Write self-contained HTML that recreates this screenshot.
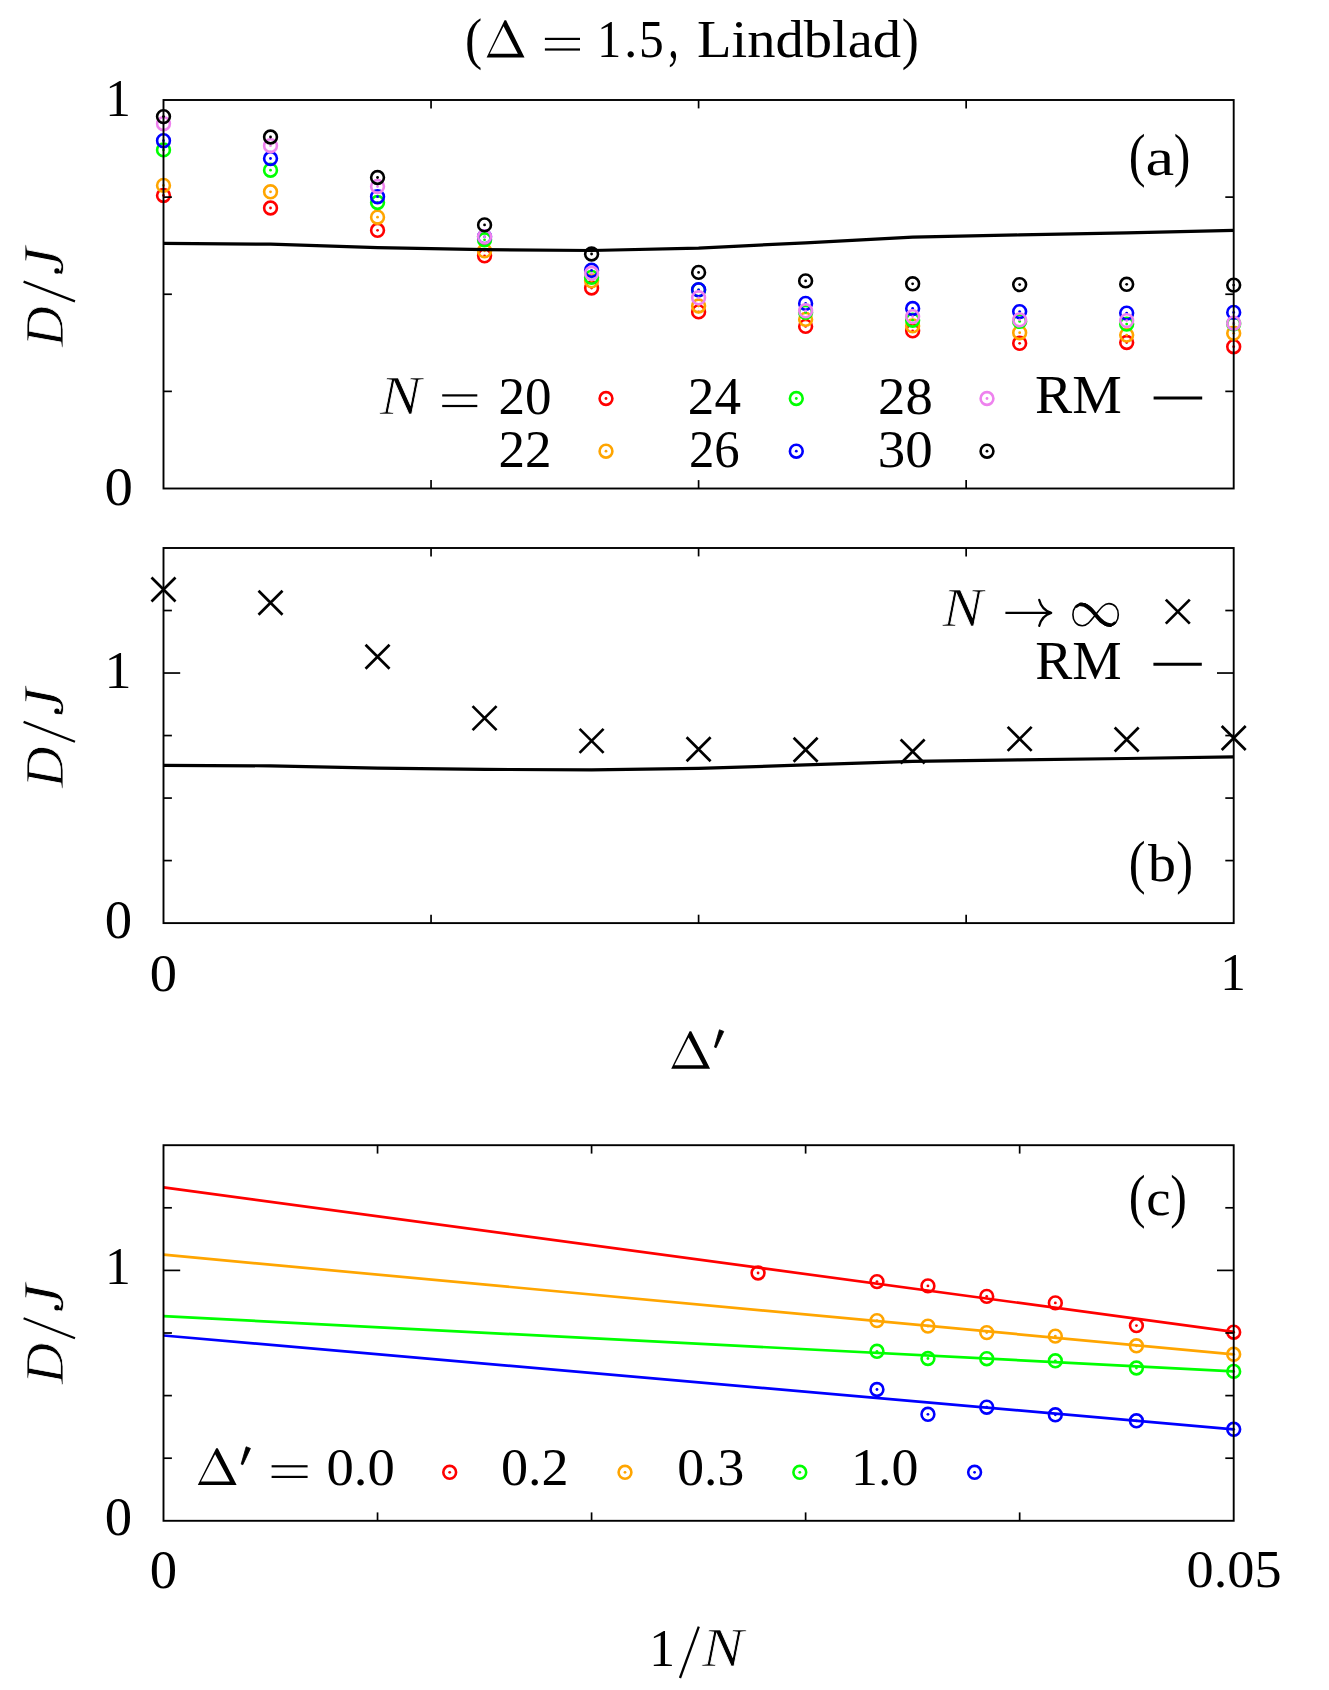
<!DOCTYPE html>
<html><head><meta charset="utf-8"><title>Figure</title>
<style>html,body{margin:0;padding:0;background:#fff}svg{display:block;font-family:"Liberation Serif",serif}text{fill:#000}</style>
</head><body>
<svg width="1329" height="1690" viewBox="0 0 1329 1690">
<rect x="0" y="0" width="1329" height="1690" fill="#ffffff"/>
<circle cx="163.50" cy="195.50" r="6.4" fill="none" stroke="#ff0000" stroke-width="2.6"/><circle cx="163.50" cy="195.50" r="1.4" fill="#ff0000"/>
<circle cx="270.52" cy="208.00" r="6.4" fill="none" stroke="#ff0000" stroke-width="2.6"/><circle cx="270.52" cy="208.00" r="1.4" fill="#ff0000"/>
<circle cx="377.54" cy="230.30" r="6.4" fill="none" stroke="#ff0000" stroke-width="2.6"/><circle cx="377.54" cy="230.30" r="1.4" fill="#ff0000"/>
<circle cx="484.56" cy="255.80" r="6.4" fill="none" stroke="#ff0000" stroke-width="2.6"/><circle cx="484.56" cy="255.80" r="1.4" fill="#ff0000"/>
<circle cx="591.58" cy="288.00" r="6.4" fill="none" stroke="#ff0000" stroke-width="2.6"/><circle cx="591.58" cy="288.00" r="1.4" fill="#ff0000"/>
<circle cx="698.60" cy="311.90" r="6.4" fill="none" stroke="#ff0000" stroke-width="2.6"/><circle cx="698.60" cy="311.90" r="1.4" fill="#ff0000"/>
<circle cx="805.62" cy="326.40" r="6.4" fill="none" stroke="#ff0000" stroke-width="2.6"/><circle cx="805.62" cy="326.40" r="1.4" fill="#ff0000"/>
<circle cx="912.64" cy="330.80" r="6.4" fill="none" stroke="#ff0000" stroke-width="2.6"/><circle cx="912.64" cy="330.80" r="1.4" fill="#ff0000"/>
<circle cx="1019.66" cy="343.30" r="6.4" fill="none" stroke="#ff0000" stroke-width="2.6"/><circle cx="1019.66" cy="343.30" r="1.4" fill="#ff0000"/>
<circle cx="1126.68" cy="342.50" r="6.4" fill="none" stroke="#ff0000" stroke-width="2.6"/><circle cx="1126.68" cy="342.50" r="1.4" fill="#ff0000"/>
<circle cx="1233.70" cy="346.70" r="6.4" fill="none" stroke="#ff0000" stroke-width="2.6"/><circle cx="1233.70" cy="346.70" r="1.4" fill="#ff0000"/>
<circle cx="163.50" cy="185.40" r="6.4" fill="none" stroke="#ffa500" stroke-width="2.6"/><circle cx="163.50" cy="185.40" r="1.4" fill="#ffa500"/>
<circle cx="270.52" cy="191.80" r="6.4" fill="none" stroke="#ffa500" stroke-width="2.6"/><circle cx="270.52" cy="191.80" r="1.4" fill="#ffa500"/>
<circle cx="377.54" cy="217.20" r="6.4" fill="none" stroke="#ffa500" stroke-width="2.6"/><circle cx="377.54" cy="217.20" r="1.4" fill="#ffa500"/>
<circle cx="484.56" cy="250.80" r="6.4" fill="none" stroke="#ffa500" stroke-width="2.6"/><circle cx="484.56" cy="250.80" r="1.4" fill="#ffa500"/>
<circle cx="591.58" cy="280.80" r="6.4" fill="none" stroke="#ffa500" stroke-width="2.6"/><circle cx="591.58" cy="280.80" r="1.4" fill="#ffa500"/>
<circle cx="698.60" cy="306.00" r="6.4" fill="none" stroke="#ffa500" stroke-width="2.6"/><circle cx="698.60" cy="306.00" r="1.4" fill="#ffa500"/>
<circle cx="805.62" cy="319.40" r="6.4" fill="none" stroke="#ffa500" stroke-width="2.6"/><circle cx="805.62" cy="319.40" r="1.4" fill="#ffa500"/>
<circle cx="912.64" cy="325.90" r="6.4" fill="none" stroke="#ffa500" stroke-width="2.6"/><circle cx="912.64" cy="325.90" r="1.4" fill="#ffa500"/>
<circle cx="1019.66" cy="332.70" r="6.4" fill="none" stroke="#ffa500" stroke-width="2.6"/><circle cx="1019.66" cy="332.70" r="1.4" fill="#ffa500"/>
<circle cx="1126.68" cy="335.10" r="6.4" fill="none" stroke="#ffa500" stroke-width="2.6"/><circle cx="1126.68" cy="335.10" r="1.4" fill="#ffa500"/>
<circle cx="1233.70" cy="333.30" r="6.4" fill="none" stroke="#ffa500" stroke-width="2.6"/><circle cx="1233.70" cy="333.30" r="1.4" fill="#ffa500"/>
<circle cx="163.50" cy="149.90" r="6.4" fill="none" stroke="#00ff00" stroke-width="2.6"/><circle cx="163.50" cy="149.90" r="1.4" fill="#00ff00"/>
<circle cx="270.52" cy="170.20" r="6.4" fill="none" stroke="#00ff00" stroke-width="2.6"/><circle cx="270.52" cy="170.20" r="1.4" fill="#00ff00"/>
<circle cx="377.54" cy="202.50" r="6.4" fill="none" stroke="#00ff00" stroke-width="2.6"/><circle cx="377.54" cy="202.50" r="1.4" fill="#00ff00"/>
<circle cx="484.56" cy="239.80" r="6.4" fill="none" stroke="#00ff00" stroke-width="2.6"/><circle cx="484.56" cy="239.80" r="1.4" fill="#00ff00"/>
<circle cx="591.58" cy="277.40" r="6.4" fill="none" stroke="#00ff00" stroke-width="2.6"/><circle cx="591.58" cy="277.40" r="1.4" fill="#00ff00"/>
<circle cx="698.60" cy="289.90" r="6.4" fill="none" stroke="#00ff00" stroke-width="2.6"/><circle cx="698.60" cy="289.90" r="1.4" fill="#00ff00"/>
<circle cx="805.62" cy="312.40" r="6.4" fill="none" stroke="#00ff00" stroke-width="2.6"/><circle cx="805.62" cy="312.40" r="1.4" fill="#00ff00"/>
<circle cx="912.64" cy="320.20" r="6.4" fill="none" stroke="#00ff00" stroke-width="2.6"/><circle cx="912.64" cy="320.20" r="1.4" fill="#00ff00"/>
<circle cx="1019.66" cy="321.40" r="6.4" fill="none" stroke="#00ff00" stroke-width="2.6"/><circle cx="1019.66" cy="321.40" r="1.4" fill="#00ff00"/>
<circle cx="1126.68" cy="324.10" r="6.4" fill="none" stroke="#00ff00" stroke-width="2.6"/><circle cx="1126.68" cy="324.10" r="1.4" fill="#00ff00"/>
<circle cx="1233.70" cy="323.80" r="6.4" fill="none" stroke="#00ff00" stroke-width="2.6"/><circle cx="1233.70" cy="323.80" r="1.4" fill="#00ff00"/>
<circle cx="163.50" cy="140.70" r="6.4" fill="none" stroke="#0000ff" stroke-width="2.6"/><circle cx="163.50" cy="140.70" r="1.4" fill="#0000ff"/>
<circle cx="270.52" cy="158.50" r="6.4" fill="none" stroke="#0000ff" stroke-width="2.6"/><circle cx="270.52" cy="158.50" r="1.4" fill="#0000ff"/>
<circle cx="377.54" cy="196.70" r="6.4" fill="none" stroke="#0000ff" stroke-width="2.6"/><circle cx="377.54" cy="196.70" r="1.4" fill="#0000ff"/>
<circle cx="484.56" cy="236.80" r="6.4" fill="none" stroke="#0000ff" stroke-width="2.6"/><circle cx="484.56" cy="236.80" r="1.4" fill="#0000ff"/>
<circle cx="591.58" cy="270.30" r="6.4" fill="none" stroke="#0000ff" stroke-width="2.6"/><circle cx="591.58" cy="270.30" r="1.4" fill="#0000ff"/>
<circle cx="698.60" cy="289.80" r="6.4" fill="none" stroke="#0000ff" stroke-width="2.6"/><circle cx="698.60" cy="289.80" r="1.4" fill="#0000ff"/>
<circle cx="805.62" cy="303.40" r="6.4" fill="none" stroke="#0000ff" stroke-width="2.6"/><circle cx="805.62" cy="303.40" r="1.4" fill="#0000ff"/>
<circle cx="912.64" cy="308.50" r="6.4" fill="none" stroke="#0000ff" stroke-width="2.6"/><circle cx="912.64" cy="308.50" r="1.4" fill="#0000ff"/>
<circle cx="1019.66" cy="311.60" r="6.4" fill="none" stroke="#0000ff" stroke-width="2.6"/><circle cx="1019.66" cy="311.60" r="1.4" fill="#0000ff"/>
<circle cx="1126.68" cy="313.10" r="6.4" fill="none" stroke="#0000ff" stroke-width="2.6"/><circle cx="1126.68" cy="313.10" r="1.4" fill="#0000ff"/>
<circle cx="1233.70" cy="312.40" r="6.4" fill="none" stroke="#0000ff" stroke-width="2.6"/><circle cx="1233.70" cy="312.40" r="1.4" fill="#0000ff"/>
<circle cx="163.50" cy="123.70" r="6.4" fill="none" stroke="#ee82ee" stroke-width="2.6"/><circle cx="163.50" cy="123.70" r="1.4" fill="#ee82ee"/>
<circle cx="270.52" cy="145.70" r="6.4" fill="none" stroke="#ee82ee" stroke-width="2.6"/><circle cx="270.52" cy="145.70" r="1.4" fill="#ee82ee"/>
<circle cx="377.54" cy="186.50" r="6.4" fill="none" stroke="#ee82ee" stroke-width="2.6"/><circle cx="377.54" cy="186.50" r="1.4" fill="#ee82ee"/>
<circle cx="484.56" cy="236.80" r="6.4" fill="none" stroke="#ee82ee" stroke-width="2.6"/><circle cx="484.56" cy="236.80" r="1.4" fill="#ee82ee"/>
<circle cx="591.58" cy="273.30" r="6.4" fill="none" stroke="#ee82ee" stroke-width="2.6"/><circle cx="591.58" cy="273.30" r="1.4" fill="#ee82ee"/>
<circle cx="698.60" cy="297.80" r="6.4" fill="none" stroke="#ee82ee" stroke-width="2.6"/><circle cx="698.60" cy="297.80" r="1.4" fill="#ee82ee"/>
<circle cx="805.62" cy="310.80" r="6.4" fill="none" stroke="#ee82ee" stroke-width="2.6"/><circle cx="805.62" cy="310.80" r="1.4" fill="#ee82ee"/>
<circle cx="912.64" cy="316.60" r="6.4" fill="none" stroke="#ee82ee" stroke-width="2.6"/><circle cx="912.64" cy="316.60" r="1.4" fill="#ee82ee"/>
<circle cx="1019.66" cy="319.85" r="6.4" fill="none" stroke="#ee82ee" stroke-width="2.6"/><circle cx="1019.66" cy="319.85" r="1.4" fill="#ee82ee"/>
<circle cx="1126.68" cy="320.60" r="6.4" fill="none" stroke="#ee82ee" stroke-width="2.6"/><circle cx="1126.68" cy="320.60" r="1.4" fill="#ee82ee"/>
<circle cx="1233.70" cy="323.20" r="6.4" fill="none" stroke="#ee82ee" stroke-width="2.6"/><circle cx="1233.70" cy="323.20" r="1.4" fill="#ee82ee"/>
<circle cx="163.50" cy="116.60" r="6.4" fill="none" stroke="#000000" stroke-width="2.6"/><circle cx="163.50" cy="116.60" r="1.4" fill="#000000"/>
<circle cx="270.52" cy="137.00" r="6.4" fill="none" stroke="#000000" stroke-width="2.6"/><circle cx="270.52" cy="137.00" r="1.4" fill="#000000"/>
<circle cx="377.54" cy="177.50" r="6.4" fill="none" stroke="#000000" stroke-width="2.6"/><circle cx="377.54" cy="177.50" r="1.4" fill="#000000"/>
<circle cx="484.56" cy="224.90" r="6.4" fill="none" stroke="#000000" stroke-width="2.6"/><circle cx="484.56" cy="224.90" r="1.4" fill="#000000"/>
<circle cx="591.58" cy="254.00" r="6.4" fill="none" stroke="#000000" stroke-width="2.6"/><circle cx="591.58" cy="254.00" r="1.4" fill="#000000"/>
<circle cx="698.60" cy="272.40" r="6.4" fill="none" stroke="#000000" stroke-width="2.6"/><circle cx="698.60" cy="272.40" r="1.4" fill="#000000"/>
<circle cx="805.62" cy="280.90" r="6.4" fill="none" stroke="#000000" stroke-width="2.6"/><circle cx="805.62" cy="280.90" r="1.4" fill="#000000"/>
<circle cx="912.64" cy="283.80" r="6.4" fill="none" stroke="#000000" stroke-width="2.6"/><circle cx="912.64" cy="283.80" r="1.4" fill="#000000"/>
<circle cx="1019.66" cy="284.60" r="6.4" fill="none" stroke="#000000" stroke-width="2.6"/><circle cx="1019.66" cy="284.60" r="1.4" fill="#000000"/>
<circle cx="1126.68" cy="284.30" r="6.4" fill="none" stroke="#000000" stroke-width="2.6"/><circle cx="1126.68" cy="284.30" r="1.4" fill="#000000"/>
<circle cx="1233.70" cy="285.10" r="6.4" fill="none" stroke="#000000" stroke-width="2.6"/><circle cx="1233.70" cy="285.10" r="1.4" fill="#000000"/>
<polyline points="163.50,243.40 270.52,244.20 377.54,247.60 484.56,249.70 591.58,250.50 698.60,248.10 805.62,242.80 912.64,237.20 1019.66,234.90 1126.68,232.80 1233.70,230.30" fill="none" stroke="#000" stroke-width="3.2" stroke-linejoin="round"/>
<circle cx="606.00" cy="398.50" r="6.4" fill="none" stroke="#ff0000" stroke-width="2.6"/><circle cx="606.00" cy="398.50" r="1.4" fill="#ff0000"/>
<circle cx="606.00" cy="451.20" r="6.4" fill="none" stroke="#ffa500" stroke-width="2.6"/><circle cx="606.00" cy="451.20" r="1.4" fill="#ffa500"/>
<circle cx="796.30" cy="398.50" r="6.4" fill="none" stroke="#00ff00" stroke-width="2.6"/><circle cx="796.30" cy="398.50" r="1.4" fill="#00ff00"/>
<circle cx="796.30" cy="451.20" r="6.4" fill="none" stroke="#0000ff" stroke-width="2.6"/><circle cx="796.30" cy="451.20" r="1.4" fill="#0000ff"/>
<circle cx="987.00" cy="398.50" r="6.4" fill="none" stroke="#ee82ee" stroke-width="2.6"/><circle cx="987.00" cy="398.50" r="1.4" fill="#ee82ee"/>
<circle cx="987.00" cy="451.20" r="6.4" fill="none" stroke="#000000" stroke-width="2.6"/><circle cx="987.00" cy="451.20" r="1.4" fill="#000000"/>
<line x1="1153.60" y1="398.00" x2="1202.20" y2="398.00" stroke="#000" stroke-width="3.0" stroke-linecap="butt"/>
<polyline points="163.50,765.34 270.52,765.85 377.54,768.04 484.56,769.39 591.58,769.91 698.60,768.36 805.62,764.95 912.64,761.35 1019.66,759.86 1126.68,758.51 1233.70,756.90" fill="none" stroke="#000" stroke-width="3.2" stroke-linejoin="round"/>
<path d="M151.50 577.50L175.50 601.50M151.50 601.50L175.50 577.50" stroke="#000" stroke-width="2.7" fill="none"/>
<path d="M258.52 590.80L282.52 614.80M258.52 614.80L282.52 590.80" stroke="#000" stroke-width="2.7" fill="none"/>
<path d="M365.54 644.70L389.54 668.70M365.54 668.70L389.54 644.70" stroke="#000" stroke-width="2.7" fill="none"/>
<path d="M472.56 706.10L496.56 730.10M472.56 730.10L496.56 706.10" stroke="#000" stroke-width="2.7" fill="none"/>
<path d="M579.58 728.90L603.58 752.90M579.58 752.90L603.58 728.90" stroke="#000" stroke-width="2.7" fill="none"/>
<path d="M686.60 737.20L710.60 761.20M686.60 761.20L710.60 737.20" stroke="#000" stroke-width="2.7" fill="none"/>
<path d="M793.62 737.80L817.62 761.80M793.62 761.80L817.62 737.80" stroke="#000" stroke-width="2.7" fill="none"/>
<path d="M900.64 739.50L924.64 763.50M900.64 763.50L924.64 739.50" stroke="#000" stroke-width="2.7" fill="none"/>
<path d="M1007.66 726.90L1031.66 750.90M1007.66 750.90L1031.66 726.90" stroke="#000" stroke-width="2.7" fill="none"/>
<path d="M1114.68 727.50L1138.68 751.50M1114.68 751.50L1138.68 727.50" stroke="#000" stroke-width="2.7" fill="none"/>
<path d="M1221.70 726.00L1245.70 750.00M1221.70 750.00L1245.70 726.00" stroke="#000" stroke-width="2.7" fill="none"/>
<path d="M1165.80 599.60L1189.80 623.60M1165.80 623.60L1189.80 599.60" stroke="#000" stroke-width="2.7" fill="none"/>
<line x1="1153.40" y1="664.30" x2="1201.80" y2="664.30" stroke="#000" stroke-width="3.0" stroke-linecap="butt"/>
<circle cx="758.06" cy="1273.00" r="6.4" fill="none" stroke="#ff0000" stroke-width="2.6"/><circle cx="758.06" cy="1273.00" r="1.4" fill="#ff0000"/>
<circle cx="876.97" cy="1281.60" r="6.4" fill="none" stroke="#ff0000" stroke-width="2.6"/><circle cx="876.97" cy="1281.60" r="1.4" fill="#ff0000"/>
<circle cx="927.93" cy="1285.90" r="6.4" fill="none" stroke="#ff0000" stroke-width="2.6"/><circle cx="927.93" cy="1285.90" r="1.4" fill="#ff0000"/>
<circle cx="986.73" cy="1296.40" r="6.4" fill="none" stroke="#ff0000" stroke-width="2.6"/><circle cx="986.73" cy="1296.40" r="1.4" fill="#ff0000"/>
<circle cx="1055.33" cy="1302.90" r="6.4" fill="none" stroke="#ff0000" stroke-width="2.6"/><circle cx="1055.33" cy="1302.90" r="1.4" fill="#ff0000"/>
<circle cx="1136.41" cy="1325.60" r="6.4" fill="none" stroke="#ff0000" stroke-width="2.6"/><circle cx="1136.41" cy="1325.60" r="1.4" fill="#ff0000"/>
<circle cx="1233.70" cy="1332.20" r="6.4" fill="none" stroke="#ff0000" stroke-width="2.6"/><circle cx="1233.70" cy="1332.20" r="1.4" fill="#ff0000"/>
<line x1="163.50" y1="1187.30" x2="1233.70" y2="1331.90" stroke="#ff0000" stroke-width="2.7" stroke-linecap="butt"/>
<circle cx="876.97" cy="1320.60" r="6.4" fill="none" stroke="#ffa500" stroke-width="2.6"/><circle cx="876.97" cy="1320.60" r="1.4" fill="#ffa500"/>
<circle cx="927.93" cy="1326.10" r="6.4" fill="none" stroke="#ffa500" stroke-width="2.6"/><circle cx="927.93" cy="1326.10" r="1.4" fill="#ffa500"/>
<circle cx="986.73" cy="1332.60" r="6.4" fill="none" stroke="#ffa500" stroke-width="2.6"/><circle cx="986.73" cy="1332.60" r="1.4" fill="#ffa500"/>
<circle cx="1055.33" cy="1336.10" r="6.4" fill="none" stroke="#ffa500" stroke-width="2.6"/><circle cx="1055.33" cy="1336.10" r="1.4" fill="#ffa500"/>
<circle cx="1136.41" cy="1345.80" r="6.4" fill="none" stroke="#ffa500" stroke-width="2.6"/><circle cx="1136.41" cy="1345.80" r="1.4" fill="#ffa500"/>
<circle cx="1233.70" cy="1354.30" r="6.4" fill="none" stroke="#ffa500" stroke-width="2.6"/><circle cx="1233.70" cy="1354.30" r="1.4" fill="#ffa500"/>
<line x1="163.50" y1="1254.70" x2="1233.70" y2="1354.30" stroke="#ffa500" stroke-width="2.7" stroke-linecap="butt"/>
<circle cx="876.97" cy="1351.30" r="6.4" fill="none" stroke="#00ff00" stroke-width="2.6"/><circle cx="876.97" cy="1351.30" r="1.4" fill="#00ff00"/>
<circle cx="927.93" cy="1358.50" r="6.4" fill="none" stroke="#00ff00" stroke-width="2.6"/><circle cx="927.93" cy="1358.50" r="1.4" fill="#00ff00"/>
<circle cx="986.73" cy="1358.70" r="6.4" fill="none" stroke="#00ff00" stroke-width="2.6"/><circle cx="986.73" cy="1358.70" r="1.4" fill="#00ff00"/>
<circle cx="1055.33" cy="1360.80" r="6.4" fill="none" stroke="#00ff00" stroke-width="2.6"/><circle cx="1055.33" cy="1360.80" r="1.4" fill="#00ff00"/>
<circle cx="1136.41" cy="1368.00" r="6.4" fill="none" stroke="#00ff00" stroke-width="2.6"/><circle cx="1136.41" cy="1368.00" r="1.4" fill="#00ff00"/>
<circle cx="1233.70" cy="1371.40" r="6.4" fill="none" stroke="#00ff00" stroke-width="2.6"/><circle cx="1233.70" cy="1371.40" r="1.4" fill="#00ff00"/>
<line x1="163.50" y1="1316.20" x2="1233.70" y2="1371.30" stroke="#00ff00" stroke-width="2.7" stroke-linecap="butt"/>
<circle cx="876.97" cy="1389.50" r="6.4" fill="none" stroke="#0000ff" stroke-width="2.6"/><circle cx="876.97" cy="1389.50" r="1.4" fill="#0000ff"/>
<circle cx="927.93" cy="1414.30" r="6.4" fill="none" stroke="#0000ff" stroke-width="2.6"/><circle cx="927.93" cy="1414.30" r="1.4" fill="#0000ff"/>
<circle cx="986.73" cy="1407.20" r="6.4" fill="none" stroke="#0000ff" stroke-width="2.6"/><circle cx="986.73" cy="1407.20" r="1.4" fill="#0000ff"/>
<circle cx="1055.33" cy="1414.80" r="6.4" fill="none" stroke="#0000ff" stroke-width="2.6"/><circle cx="1055.33" cy="1414.80" r="1.4" fill="#0000ff"/>
<circle cx="1136.41" cy="1420.80" r="6.4" fill="none" stroke="#0000ff" stroke-width="2.6"/><circle cx="1136.41" cy="1420.80" r="1.4" fill="#0000ff"/>
<circle cx="1233.70" cy="1429.30" r="6.4" fill="none" stroke="#0000ff" stroke-width="2.6"/><circle cx="1233.70" cy="1429.30" r="1.4" fill="#0000ff"/>
<line x1="163.50" y1="1335.50" x2="1233.70" y2="1429.30" stroke="#0000ff" stroke-width="2.7" stroke-linecap="butt"/>
<circle cx="449.70" cy="1472.30" r="6.4" fill="none" stroke="#ff0000" stroke-width="2.6"/><circle cx="449.70" cy="1472.30" r="1.4" fill="#ff0000"/>
<circle cx="625.00" cy="1472.30" r="6.4" fill="none" stroke="#ffa500" stroke-width="2.6"/><circle cx="625.00" cy="1472.30" r="1.4" fill="#ffa500"/>
<circle cx="799.80" cy="1472.30" r="6.4" fill="none" stroke="#00ff00" stroke-width="2.6"/><circle cx="799.80" cy="1472.30" r="1.4" fill="#00ff00"/>
<circle cx="974.60" cy="1472.30" r="6.4" fill="none" stroke="#0000ff" stroke-width="2.6"/><circle cx="974.60" cy="1472.30" r="1.4" fill="#0000ff"/>
<line x1="163.50" y1="391.38" x2="171.90" y2="391.38" stroke="#000" stroke-width="1.7" stroke-linecap="butt"/>
<line x1="1233.70" y1="391.38" x2="1225.30" y2="391.38" stroke="#000" stroke-width="1.7" stroke-linecap="butt"/>
<line x1="163.50" y1="294.25" x2="171.90" y2="294.25" stroke="#000" stroke-width="1.7" stroke-linecap="butt"/>
<line x1="1233.70" y1="294.25" x2="1225.30" y2="294.25" stroke="#000" stroke-width="1.7" stroke-linecap="butt"/>
<line x1="163.50" y1="197.12" x2="171.90" y2="197.12" stroke="#000" stroke-width="1.7" stroke-linecap="butt"/>
<line x1="1233.70" y1="197.12" x2="1225.30" y2="197.12" stroke="#000" stroke-width="1.7" stroke-linecap="butt"/>
<line x1="431.05" y1="488.50" x2="431.05" y2="480.10" stroke="#000" stroke-width="1.7" stroke-linecap="butt"/>
<line x1="431.05" y1="100.00" x2="431.05" y2="108.40" stroke="#000" stroke-width="1.7" stroke-linecap="butt"/>
<line x1="698.60" y1="488.50" x2="698.60" y2="480.10" stroke="#000" stroke-width="1.7" stroke-linecap="butt"/>
<line x1="698.60" y1="100.00" x2="698.60" y2="108.40" stroke="#000" stroke-width="1.7" stroke-linecap="butt"/>
<line x1="966.15" y1="488.50" x2="966.15" y2="480.10" stroke="#000" stroke-width="1.7" stroke-linecap="butt"/>
<line x1="966.15" y1="100.00" x2="966.15" y2="108.40" stroke="#000" stroke-width="1.7" stroke-linecap="butt"/>
<rect x="163.5" y="100.0" width="1070.20" height="388.50" fill="none" stroke="#000" stroke-width="1.9"/>
<line x1="163.50" y1="860.58" x2="171.90" y2="860.58" stroke="#000" stroke-width="1.7" stroke-linecap="butt"/>
<line x1="1233.70" y1="860.58" x2="1225.30" y2="860.58" stroke="#000" stroke-width="1.7" stroke-linecap="butt"/>
<line x1="163.50" y1="798.07" x2="171.90" y2="798.07" stroke="#000" stroke-width="1.7" stroke-linecap="butt"/>
<line x1="1233.70" y1="798.07" x2="1225.30" y2="798.07" stroke="#000" stroke-width="1.7" stroke-linecap="butt"/>
<line x1="163.50" y1="735.55" x2="171.90" y2="735.55" stroke="#000" stroke-width="1.7" stroke-linecap="butt"/>
<line x1="1233.70" y1="735.55" x2="1225.30" y2="735.55" stroke="#000" stroke-width="1.7" stroke-linecap="butt"/>
<line x1="163.50" y1="610.52" x2="171.90" y2="610.52" stroke="#000" stroke-width="1.7" stroke-linecap="butt"/>
<line x1="1233.70" y1="610.52" x2="1225.30" y2="610.52" stroke="#000" stroke-width="1.7" stroke-linecap="butt"/>
<line x1="163.50" y1="673.03" x2="180.20" y2="673.03" stroke="#000" stroke-width="1.7" stroke-linecap="butt"/>
<line x1="1233.70" y1="673.03" x2="1217.00" y2="673.03" stroke="#000" stroke-width="1.7" stroke-linecap="butt"/>
<line x1="431.05" y1="923.10" x2="431.05" y2="914.70" stroke="#000" stroke-width="1.7" stroke-linecap="butt"/>
<line x1="431.05" y1="548.00" x2="431.05" y2="556.40" stroke="#000" stroke-width="1.7" stroke-linecap="butt"/>
<line x1="698.60" y1="923.10" x2="698.60" y2="914.70" stroke="#000" stroke-width="1.7" stroke-linecap="butt"/>
<line x1="698.60" y1="548.00" x2="698.60" y2="556.40" stroke="#000" stroke-width="1.7" stroke-linecap="butt"/>
<line x1="966.15" y1="923.10" x2="966.15" y2="914.70" stroke="#000" stroke-width="1.7" stroke-linecap="butt"/>
<line x1="966.15" y1="548.00" x2="966.15" y2="556.40" stroke="#000" stroke-width="1.7" stroke-linecap="butt"/>
<rect x="163.5" y="548.0" width="1070.20" height="375.10" fill="none" stroke="#000" stroke-width="1.9"/>
<line x1="163.50" y1="1458.20" x2="171.90" y2="1458.20" stroke="#000" stroke-width="1.7" stroke-linecap="butt"/>
<line x1="1233.70" y1="1458.20" x2="1225.30" y2="1458.20" stroke="#000" stroke-width="1.7" stroke-linecap="butt"/>
<line x1="163.50" y1="1395.60" x2="171.90" y2="1395.60" stroke="#000" stroke-width="1.7" stroke-linecap="butt"/>
<line x1="1233.70" y1="1395.60" x2="1225.30" y2="1395.60" stroke="#000" stroke-width="1.7" stroke-linecap="butt"/>
<line x1="163.50" y1="1333.00" x2="171.90" y2="1333.00" stroke="#000" stroke-width="1.7" stroke-linecap="butt"/>
<line x1="1233.70" y1="1333.00" x2="1225.30" y2="1333.00" stroke="#000" stroke-width="1.7" stroke-linecap="butt"/>
<line x1="163.50" y1="1207.80" x2="171.90" y2="1207.80" stroke="#000" stroke-width="1.7" stroke-linecap="butt"/>
<line x1="1233.70" y1="1207.80" x2="1225.30" y2="1207.80" stroke="#000" stroke-width="1.7" stroke-linecap="butt"/>
<line x1="163.50" y1="1270.40" x2="180.20" y2="1270.40" stroke="#000" stroke-width="1.7" stroke-linecap="butt"/>
<line x1="1233.70" y1="1270.40" x2="1217.00" y2="1270.40" stroke="#000" stroke-width="1.7" stroke-linecap="butt"/>
<line x1="377.54" y1="1520.80" x2="377.54" y2="1512.40" stroke="#000" stroke-width="1.7" stroke-linecap="butt"/>
<line x1="377.54" y1="1145.20" x2="377.54" y2="1153.60" stroke="#000" stroke-width="1.7" stroke-linecap="butt"/>
<line x1="591.58" y1="1520.80" x2="591.58" y2="1512.40" stroke="#000" stroke-width="1.7" stroke-linecap="butt"/>
<line x1="591.58" y1="1145.20" x2="591.58" y2="1153.60" stroke="#000" stroke-width="1.7" stroke-linecap="butt"/>
<line x1="805.62" y1="1520.80" x2="805.62" y2="1512.40" stroke="#000" stroke-width="1.7" stroke-linecap="butt"/>
<line x1="805.62" y1="1145.20" x2="805.62" y2="1153.60" stroke="#000" stroke-width="1.7" stroke-linecap="butt"/>
<line x1="1019.66" y1="1520.80" x2="1019.66" y2="1512.40" stroke="#000" stroke-width="1.7" stroke-linecap="butt"/>
<line x1="1019.66" y1="1145.20" x2="1019.66" y2="1153.60" stroke="#000" stroke-width="1.7" stroke-linecap="butt"/>
<rect x="163.5" y="1145.2" width="1070.20" height="375.60" fill="none" stroke="#000" stroke-width="1.9"/>
<text transform="translate(465.12,57.57) scale(0.9673,1.0694)" style="font-size:53.4px;">(</text>
<text transform="translate(597.34,57.40) scale(0.8960,1.0000)" style="font-size:53.4px;">1</text>
<text transform="translate(623.97,57.40) scale(1.0080,1.0000)" style="font-size:53.4px;">.</text>
<text transform="translate(639.12,57.40) scale(0.9256,1.0000)" style="font-size:53.4px;">5</text>
<text transform="translate(668.32,57.64) scale(0.7875,1.1709)" style="font-size:53.4px;">,</text>
<text transform="translate(696.92,57.40) scale(1.0552,1.0000)" style="font-size:53.6px;">Lindblad</text>
<text transform="translate(901.82,57.57) scale(0.9600,1.0694)" style="font-size:53.4px;">)</text>
<text transform="translate(105.34,115.50) scale(0.9600,0.9957)" style="font-size:53.4px;">1</text>
<text transform="translate(104.47,504.59) scale(1.0637,1.0167)" style="font-size:53.4px;">0</text>
<text transform="translate(104.39,687.70) scale(1.0133,0.9816)" style="font-size:53.4px;">1</text>
<text transform="translate(104.65,937.89) scale(1.0242,1.0167)" style="font-size:53.4px;">0</text>
<text transform="translate(105.10,1284.20) scale(0.9680,1.0043)" style="font-size:53.4px;">1</text>
<text transform="translate(104.65,1534.99) scale(1.0242,1.0222)" style="font-size:53.4px;">0</text>
<text transform="translate(149.86,990.50) scale(1.0198,1.0000)" style="font-size:53.4px;">0</text>
<text transform="translate(1220.34,990.00) scale(0.9600,0.9986)" style="font-size:53.4px;">1</text>
<text transform="translate(149.65,1587.68) scale(1.0242,1.0306)" style="font-size:53.4px;">0</text>
<text transform="translate(1186.57,1587.14) scale(1.0162,1.0069)" style="font-size:53.4px;">0.05</text>
<text transform="translate(649.31,1665.60) scale(0.9653,1.0014)" style="font-size:53.4px;">1</text>
<text transform="translate(702.19,1665.60) scale(1.1582,1.0314)" style="font-size:53.4px;font-style:italic;stroke:#fff;stroke-width:0.7px;">N</text>
<text transform="translate(63.47,275.29) rotate(-90) scale(1.1840,1.0563)" style="font-size:53.4px;font-style:italic;stroke:#fff;stroke-width:0.7px;">J</text>
<text transform="translate(62.80,346.58) rotate(-90) scale(1.0431,1.0371)" style="font-size:53.4px;font-style:italic;stroke:#fff;stroke-width:0.7px;">D</text>
<text transform="translate(63.47,715.90) rotate(-90) scale(1.1960,1.0563)" style="font-size:53.4px;font-style:italic;stroke:#fff;stroke-width:0.7px;">J</text>
<text transform="translate(62.80,787.47) rotate(-90) scale(1.0614,1.0371)" style="font-size:53.4px;font-style:italic;stroke:#fff;stroke-width:0.7px;">D</text>
<text transform="translate(63.47,1312.29) rotate(-90) scale(1.1920,1.0563)" style="font-size:53.4px;font-style:italic;stroke:#fff;stroke-width:0.7px;">J</text>
<text transform="translate(62.80,1383.77) rotate(-90) scale(1.0588,1.0371)" style="font-size:53.4px;font-style:italic;stroke:#fff;stroke-width:0.7px;">D</text>
<text transform="translate(379.99,414.00) scale(1.1582,1.0314)" style="font-size:53.4px;font-style:italic;stroke:#fff;stroke-width:0.7px;">N</text>
<text transform="translate(498.46,413.60) scale(0.9939,1.0000)" style="font-size:53.4px;">20</text>
<text transform="translate(498.46,466.50) scale(0.9948,1.0000)" style="font-size:53.4px;">22</text>
<text transform="translate(687.86,413.60) scale(0.9950,1.0000)" style="font-size:53.4px;">24</text>
<text transform="translate(688.96,466.50) scale(0.9495,1.0000)" style="font-size:53.4px;">26</text>
<text transform="translate(878.09,413.60) scale(1.0245,1.0000)" style="font-size:53.4px;">28</text>
<text transform="translate(877.83,466.50) scale(1.0297,1.0000)" style="font-size:53.4px;">30</text>
<text transform="translate(1035.03,413.30) scale(1.0437,1.0257)" style="font-size:53.4px;">RM</text>
<text transform="translate(942.58,625.80) scale(1.1373,1.0143)" style="font-size:53.4px;font-style:italic;stroke:#fff;stroke-width:0.7px;">N</text>
<text transform="translate(1035.14,679.20) scale(1.0400,1.0086)" style="font-size:53.4px;">RM</text>
<text transform="translate(326.55,1485.30) scale(1.0231,1.0000)" style="font-size:53.4px;">0.0</text>
<text transform="translate(500.97,1485.30) scale(1.0138,1.0000)" style="font-size:53.4px;">0.2</text>
<text transform="translate(677.29,1485.30) scale(1.0040,1.0000)" style="font-size:53.4px;">0.3</text>
<text transform="translate(851.00,1485.30) scale(1.0100,1.0000)" style="font-size:53.4px;">1.0</text>
<text transform="translate(1128.87,174.79) scale(0.9455,1.0943)" style="font-size:53.4px;">(</text>
<text transform="translate(1145.58,174.70) scale(1.2095,1.0000)" style="font-size:53.4px;">a</text>
<text transform="translate(1173.76,174.79) scale(0.9382,1.0943)" style="font-size:53.4px;">)</text>
<text transform="translate(1128.87,881.66) scale(0.9455,1.0881)" style="font-size:53.4px;">(</text>
<text transform="translate(1148.00,881.20) scale(1.0465,1.0080)" style="font-size:53.4px;">b</text>
<text transform="translate(1176.25,881.66) scale(0.9455,1.0881)" style="font-size:53.4px;">)</text>
<text transform="translate(1128.87,1215.66) scale(0.9455,1.0881)" style="font-size:53.4px;">(</text>
<text transform="translate(1146.25,1215.32) scale(1.0250,0.9670)" style="font-size:53.4px;">c</text>
<text transform="translate(1170.36,1215.66) scale(0.9382,1.0881)" style="font-size:53.4px;">)</text>
<rect x="544.9" y="37.80" width="35.10" height="2.2" fill="#000"/>
<rect x="544.9" y="48.40" width="35.10" height="2.2" fill="#000"/>
<rect x="442.2" y="394.30" width="35.10" height="2.2" fill="#000"/>
<rect x="442.2" y="404.90" width="35.10" height="2.2" fill="#000"/>
<rect x="271.6" y="1465.20" width="36.00" height="2.2" fill="#000"/>
<rect x="271.6" y="1475.80" width="36.00" height="2.2" fill="#000"/>
<line x1="23.60" y1="281.60" x2="75.00" y2="301.40" stroke="#000" stroke-width="2.2" stroke-linecap="butt"/>
<line x1="23.60" y1="721.90" x2="75.00" y2="741.70" stroke="#000" stroke-width="2.2" stroke-linecap="butt"/>
<line x1="23.60" y1="1318.20" x2="75.00" y2="1338.20" stroke="#000" stroke-width="2.2" stroke-linecap="butt"/>
<circle cx="56.9" cy="270.90" r="2.6" fill="#000"/>
<circle cx="56.9" cy="711.20" r="2.6" fill="#000"/>
<circle cx="56.9" cy="1307.70" r="2.6" fill="#000"/>
<line x1="680.00" y1="1678.00" x2="698.80" y2="1626.60" stroke="#000" stroke-width="2.3" stroke-linecap="butt"/>
<path d="M504.52 20.30L506.12 20.30L524.50 57.40L486.60 57.40ZM503.54 26.35L517.87 53.80L489.71 53.80Z" fill="#000" fill-rule="evenodd"/>
<path d="M689.62 1031.30L691.22 1031.30L710.10 1068.80L671.20 1068.80ZM688.59 1037.41L703.29 1065.20L674.39 1065.20Z" fill="#000" fill-rule="evenodd"/>
<path d="M216.17 1448.30L217.77 1448.30L236.60 1485.10L197.80 1485.10ZM215.14 1454.30L229.81 1481.50L200.98 1481.50Z" fill="#000" fill-rule="evenodd"/>
<polygon points="719.45,1029.79 723.75,1031.41 716.14,1047.72 714.46,1047.08" fill="#000" stroke="#000" stroke-width="0.8" stroke-linejoin="round"/>
<polygon points="246.15,1446.79 250.45,1448.41 242.84,1464.72 241.16,1464.08" fill="#000" stroke="#000" stroke-width="0.8" stroke-linejoin="round"/>
<path d="M1095.6 614.7 C1091 609 1087.5 603.6 1082.3 603.6 C1076.5 603.6 1072.9 608.5 1072.9 614.7 C1072.9 620.9 1076.5 625.8 1082.3 625.8 C1087.5 625.8 1091 620.4 1095.6 614.7 C1100.2 609 1103.7 603.6 1108.9 603.6 C1114.7 603.6 1118.3 608.5 1118.3 614.7 C1118.3 620.9 1114.7 625.8 1108.9 625.8 C1103.7 625.8 1100.2 620.4 1095.6 614.7 Z" fill="none" stroke="#000" stroke-width="1.6"/>
<path d="M1080.5 604.3 C1086.5 604 1091 609 1095.6 614.7 C1100.2 620.4 1104.5 625.3 1110.5 625.1" fill="none" stroke="#000" stroke-width="3.8" stroke-linecap="round"/>
<path d="M1076.5 606.6 C1079 604.2 1083.5 603.2 1087 605.6 C1090.4 608 1092.8 611.2 1095.6 614.7 C1098.4 618.2 1101 621.6 1104.4 623.8 C1108 626.2 1112.2 625.3 1114.8 622.8" fill="none" stroke="#000" stroke-width="2.6" stroke-linecap="round"/>
<line x1="1005.40" y1="612.90" x2="1050.50" y2="612.90" stroke="#000" stroke-width="2.2" stroke-linecap="butt"/>
<path d="M1039.2 599.9 C1041 606.8 1045.5 611.2 1051.2 612.9 C1045.5 614.6 1041 619 1039.2 625.9" fill="none" stroke="#000" stroke-width="2.2" stroke-linecap="round" stroke-linejoin="round"/>
</svg>
</body></html>
